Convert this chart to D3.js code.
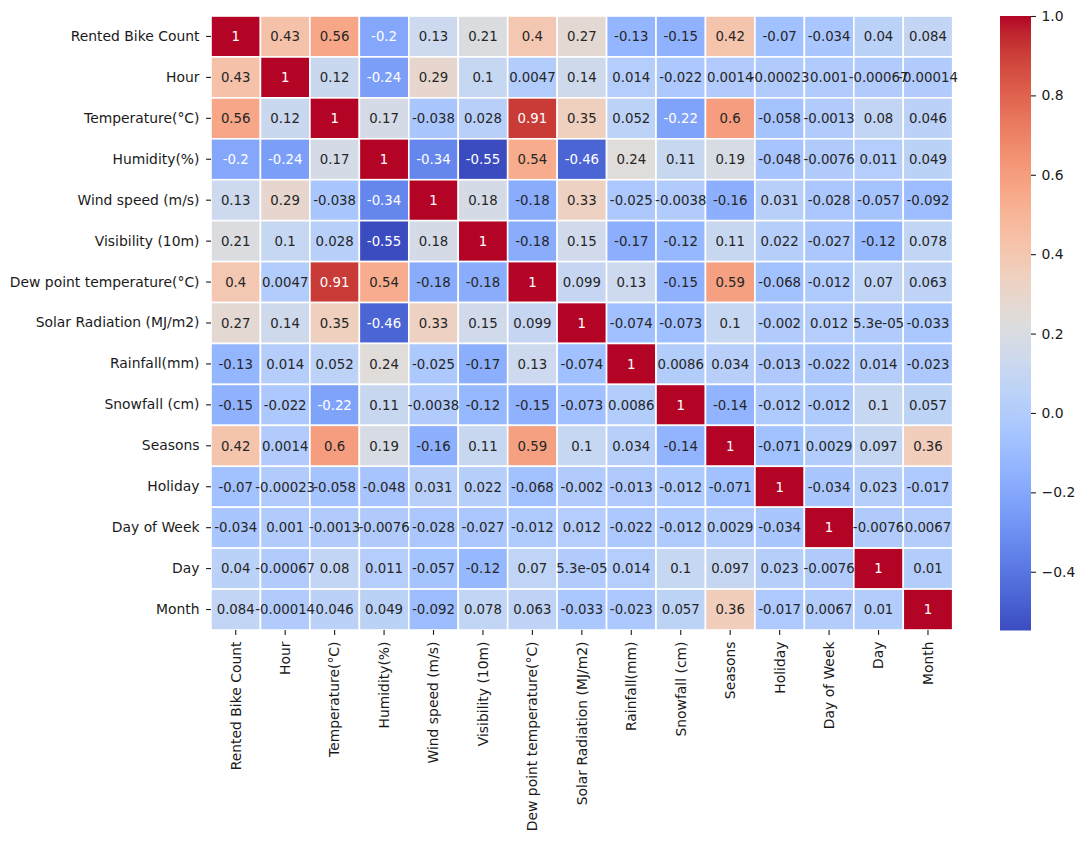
<!DOCTYPE html>
<html>
<head>
<meta charset="utf-8">
<script src="https://cdn.jsdelivr.net/npm/d3@7"></script>
<style>
  body { margin: 0; background: #fff; }
  svg text { font-family: "DejaVu Sans", sans-serif; }
</style>
</head>
<body>
<div id="chart"></div>
<script>
// Variable names (rows and columns are the same)
const labels = [
  'Rented Bike Count', 'Hour', 'Temperature(°C)', 'Humidity(%)', 'Wind speed (m/s)',
  'Visibility (10m)', 'Dew point temperature(°C)', 'Solar Radiation (MJ/m2)', 'Rainfall(mm)',
  'Snowfall (cm)', 'Seasons', 'Holiday', 'Day of Week', 'Day', 'Month'
];

// Correlation values, one row per variable
const rowRentedBikeCount = [1, 0.43, 0.56, -0.2, 0.13, 0.21, 0.4, 0.27, -0.13, -0.15, 0.42, -0.07, -0.034, 0.04, 0.084];
const rowHour = [0.43, 1, 0.12, -0.24, 0.29, 0.1, 0.0047, 0.14, 0.014, -0.022, 0.0014, -0.00023, 0.001, -0.00067, -0.00014];
const rowTemperature = [0.56, 0.12, 1, 0.17, -0.038, 0.028, 0.91, 0.35, 0.052, -0.22, 0.6, -0.058, -0.0013, 0.08, 0.046];
const rowHumidity = [-0.2, -0.24, 0.17, 1, -0.34, -0.55, 0.54, -0.46, 0.24, 0.11, 0.19, -0.048, -0.0076, 0.011, 0.049];
const rowWindSpeed = [0.13, 0.29, -0.038, -0.34, 1, 0.18, -0.18, 0.33, -0.025, -0.0038, -0.16, 0.031, -0.028, -0.057, -0.092];
const rowVisibility = [0.21, 0.1, 0.028, -0.55, 0.18, 1, -0.18, 0.15, -0.17, -0.12, 0.11, 0.022, -0.027, -0.12, 0.078];
const rowDewPoint = [0.4, 0.0047, 0.91, 0.54, -0.18, -0.18, 1, 0.099, 0.13, -0.15, 0.59, -0.068, -0.012, 0.07, 0.063];
const rowSolar = [0.27, 0.14, 0.35, -0.46, 0.33, 0.15, 0.099, 1, -0.074, -0.073, 0.1, -0.002, 0.012, 5.3e-05, -0.033];
const rowRainfall = [-0.13, 0.014, 0.052, 0.24, -0.025, -0.17, 0.13, -0.074, 1, 0.0086, 0.034, -0.013, -0.022, 0.014, -0.023];
const rowSnowfall = [-0.15, -0.022, -0.22, 0.11, -0.0038, -0.12, -0.15, -0.073, 0.0086, 1, -0.14, -0.012, -0.012, 0.1, 0.057];
const rowSeasons = [0.42, 0.0014, 0.6, 0.19, -0.16, 0.11, 0.59, 0.1, 0.034, -0.14, 1, -0.071, 0.0029, 0.097, 0.36];
const rowHoliday = [-0.07, -0.00023, -0.058, -0.048, 0.031, 0.022, -0.068, -0.002, -0.013, -0.012, -0.071, 1, -0.034, 0.023, -0.017];
const rowDayOfWeek = [-0.034, 0.001, -0.0013, -0.0076, -0.028, -0.027, -0.012, 0.012, -0.022, -0.012, 0.0029, -0.034, 1, -0.0076, 0.0067];
const rowDay = [0.04, -0.00067, 0.08, 0.011, -0.057, -0.12, 0.07, 5.3e-05, 0.014, 0.1, 0.097, 0.023, -0.0076, 1, 0.01];
const rowMonth = [0.084, -0.00014, 0.046, 0.049, -0.092, 0.078, 0.063, -0.033, -0.023, 0.057, 0.36, -0.017, 0.0067, 0.01, 1];

const matrix = [
  rowRentedBikeCount, rowHour, rowTemperature, rowHumidity, rowWindSpeed,
  rowVisibility, rowDewPoint, rowSolar, rowRainfall, rowSnowfall,
  rowSeasons, rowHoliday, rowDayOfWeek, rowDay, rowMonth
];

const colorbarTicks = [-0.4, -0.2, 0.0, 0.2, 0.4, 0.6, 0.8, 1.0];
const vmin = -0.548;
const vmax = 1;

// coolwarm (Moreland) control colours
const coolwarmStops = [
  [59,76,192],[68,90,204],[77,104,215],[87,117,225],[98,130,234],[108,142,241],
  [119,154,247],[130,165,251],[141,176,254],[152,185,255],[163,194,255],[174,201,253],
  [184,208,249],[194,213,244],[204,217,238],[213,219,230],[221,221,221],[229,216,209],
  [236,211,197],[241,204,184],[245,196,172],[247,187,159],[247,177,147],[247,166,134],
  [244,154,123],[241,141,111],[236,127,99],[229,112,89],[222,96,77],[213,80,67],
  [203,62,56],[192,40,47],[180,4,38]
];

const coolwarm = d3.scaleLinear()
  .domain(coolwarmStops.map((d, i) => vmin + (vmax - vmin) * i / (coolwarmStops.length - 1)))
  .range(coolwarmStops.map(c => d3.rgb(c[0], c[1], c[2]).toString()))
  .interpolate(d3.interpolateRgb)
  .clamp(true);

// python-style '.2g'
function fmtG(v) {
  if (v === 0) return '0';
  const e = Math.floor(Math.log10(Math.abs(v)));
  if (e < -4 || e >= 2) {
    let [m, ex] = v.toExponential(1).split('e');
    m = m.replace(/\.?0+$/, '');
    const sign = ex[0] === '-' ? '-' : '+';
    const digits = ex.replace(/[+-]/, '').padStart(2, '0');
    return m + 'e' + sign + digits;
  }
  let s = v.toPrecision(2);
  if (s.indexOf('.') >= 0) s = s.replace(/0+$/, '').replace(/\.$/, '');
  return s;
}

// seaborn picks text colour from the cell luminance
function textColor(col) {
  const c = d3.rgb(col);
  const lin = [c.r, c.g, c.b].map(x => {
    x /= 255;
    return x <= 0.03928 ? x / 12.92 : Math.pow((x + 0.055) / 1.055, 2.4);
  });
  const lum = 0.2126 * lin[0] + 0.7152 * lin[1] + 0.0722 * lin[2];
  return lum > 0.408 ? '#262626' : '#ffffff';
}

const W = 1084, H = 841;
const plot = { left: 211, top: 16, right: 952.7, bottom: 630 };
const cbar = { left: 1000, right: 1031, top: 16, bottom: 630.5 };
const tickLen = 4.9, tickPad = 6.6, fontSize = 13.9;

const svg = d3.select('#chart').append('svg')
  .attr('width', W)
  .attr('height', H);

const x = d3.scaleBand().domain(labels).range([plot.left, plot.right]);
const y = d3.scaleBand().domain(labels).range([plot.top, plot.bottom]);

const cells = [];
matrix.forEach((row, i) => {
  row.forEach((v, j) => cells.push({ row: labels[i], col: labels[j], value: v }));
});

// Cells
svg.append('g')
  .selectAll('rect')
  .data(cells)
  .join('rect')
  .attr('x', d => x(d.col))
  .attr('y', d => y(d.row))
  .attr('width', x.bandwidth())
  .attr('height', y.bandwidth())
  .attr('fill', d => coolwarm(d.value))
  .attr('stroke', '#ffffff')
  .attr('stroke-width', 1.6);

// Annotations
svg.append('g')
  .selectAll('text')
  .data(cells)
  .join('text')
  .attr('x', d => x(d.col) + x.bandwidth() / 2)
  .attr('y', d => y(d.row) + y.bandwidth() / 2)
  .attr('dy', '0.36em')
  .attr('text-anchor', 'middle')
  .attr('font-size', '13.3px')
  .attr('fill', d => textColor(coolwarm(d.value)))
  .text(d => fmtG(d.value));

// Y axis
const yAxis = svg.append('g')
  .attr('transform', `translate(${plot.left},0)`)
  .call(d3.axisLeft(y).tickSize(tickLen).tickPadding(tickPad));
yAxis.select('.domain').remove();
yAxis.selectAll('text')
  .attr('font-size', fontSize + 'px')
  .attr('font-family', '"DejaVu Sans", sans-serif')
  .attr('fill', '#1a1a1a');
yAxis.selectAll('line').attr('stroke', '#1a1a1a').attr('stroke-width', 1.1);

// X axis with rotated labels
const xAxis = svg.append('g')
  .attr('transform', `translate(0,${plot.bottom})`)
  .call(d3.axisBottom(x).tickSize(tickLen).tickPadding(tickPad));
xAxis.select('.domain').remove();
xAxis.selectAll('line').attr('stroke', '#1a1a1a').attr('stroke-width', 1.1);
xAxis.selectAll('text')
  .attr('font-size', fontSize + 'px')
  .attr('font-family', '"DejaVu Sans", sans-serif')
  .attr('fill', '#1a1a1a')
  .attr('y', 0)
  .attr('dy', '0.35em')
  .attr('text-anchor', 'end')
  .attr('transform', `translate(0,${tickLen + tickPad}) rotate(-90)`);

// Colorbar
const cy = d3.scaleLinear().domain([vmin, vmax]).range([cbar.bottom, cbar.top]);
const defs = svg.append('defs');
const grad = defs.append('linearGradient')
  .attr('id', 'cbar-grad')
  .attr('x1', 0).attr('y1', 1).attr('x2', 0).attr('y2', 0);
d3.range(0, 1.0001, 1 / 64).forEach(t => {
  grad.append('stop')
    .attr('offset', t)
    .attr('stop-color', coolwarm(vmin + (vmax - vmin) * t));
});
svg.append('rect')
  .attr('x', cbar.left)
  .attr('y', cbar.top)
  .attr('width', cbar.right - cbar.left)
  .attr('height', cbar.bottom - cbar.top)
  .attr('fill', 'url(#cbar-grad)');

const cAxis = svg.append('g')
  .attr('transform', `translate(${cbar.right},0)`)
  .call(d3.axisRight(cy)
    .tickValues(colorbarTicks)
    .tickSize(tickLen)
    .tickPadding(5.6)
    .tickFormat(d => d3.format('.1f')(d).replace('-', '\u2212')));
cAxis.select('.domain').remove();
cAxis.selectAll('line').attr('stroke', '#1a1a1a').attr('stroke-width', 1.1);
cAxis.selectAll('text')
  .attr('font-size', fontSize + 'px')
  .attr('font-family', '"DejaVu Sans", sans-serif')
  .attr('fill', '#1a1a1a');
</script>
</body>
</html>
